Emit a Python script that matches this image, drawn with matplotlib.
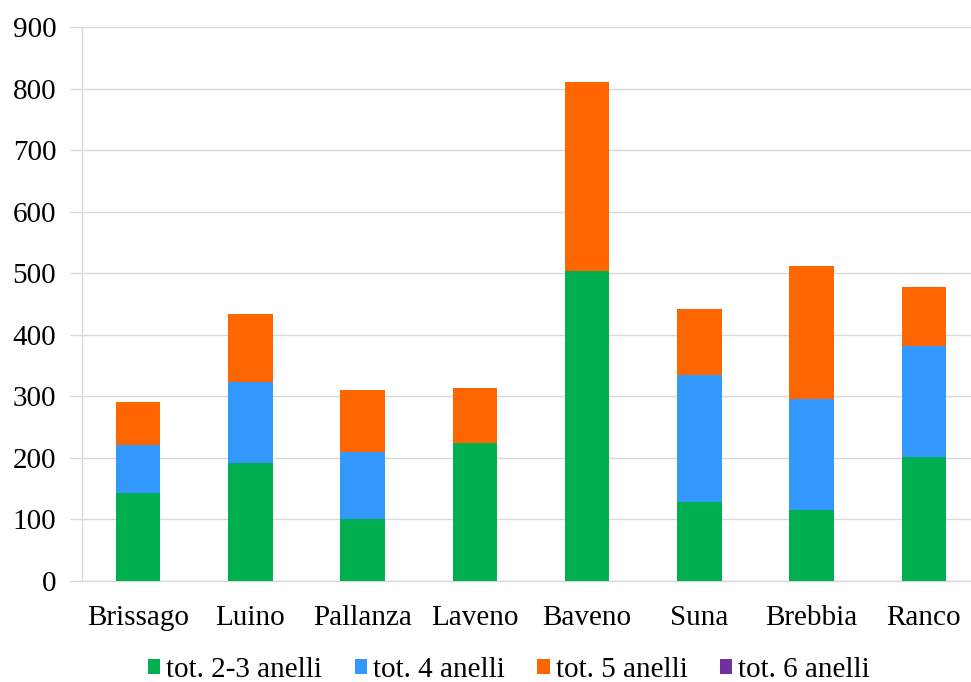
import matplotlib
matplotlib.use("Agg")
import matplotlib.pyplot as plt
import numpy as np

categories = ["Brissago", "Luino", "Pallanza", "Laveno", "Baveno", "Suna", "Brebbia", "Ranco"]
tot_2_3 = [143, 191, 100, 225, 504, 129, 116, 201]
tot_4 = [78, 133, 110, 0, 0, 205, 179, 181]
tot_5 = [70, 109, 100, 88, 306, 108, 216, 96]
tot_6 = [0, 0, 0, 0, 0, 0, 0, 0]
series_names = ["tot. 2-3 anelli", "tot. 4 anelli", "tot. 5 anelli", "tot. 6 anelli"]
colors = ["#00B050", "#3399FF", "#FF6600", "#7030A0"]

plt.rcParams['font.family'] = ['Liberation Serif', 'DejaVu Serif']
FS = 21

fig = plt.figure(figsize=(9.71, 6.82), dpi=100)
ax = fig.add_axes([82/971, 1 - 581/682, 898/971, 554/682])

x = np.arange(len(categories))
bottom = np.zeros(len(categories))
handles = []
for vals, name, c in zip([tot_2_3, tot_4, tot_5, tot_6], series_names, colors):
    h = ax.bar(x, vals, 0.395, bottom=bottom, color=c, label=name, zorder=3)
    bottom += np.array(vals)
    handles.append(h)

ax.set_xlim(-0.5, len(categories) - 0.5)
ax.set_ylim(0, 900)
ax.set_yticks(range(0, 901, 100))
ax.set_xticks(x)
ax.set_xticklabels(categories)
ax.tick_params(axis='both', labelsize=FS, colors='#d9d9d9', labelcolor='black')
ax.tick_params(axis='y', length=9, width=1, pad=9.5)
ax.tick_params(axis='x', length=0, pad=17.5)
ax.grid(axis='y', color='#d9d9d9', linewidth=1, zorder=0)
for s in ['top', 'right']:
    ax.spines[s].set_visible(False)
for s in ['left', 'bottom']:
    ax.spines[s].set_color('#d9d9d9')
    ax.spines[s].set_linewidth(1)

fig.legend(handles=handles, labels=series_names, loc='center', ncol=4,
           bbox_to_anchor=(509/971, 1 - 670/682), frameon=False, fontsize=FS,
           handlelength=0.42, handleheight=0.45, handletextpad=0.2, columnspacing=1.12,
           borderpad=0)

fig.savefig("out.png", dpi=100)
